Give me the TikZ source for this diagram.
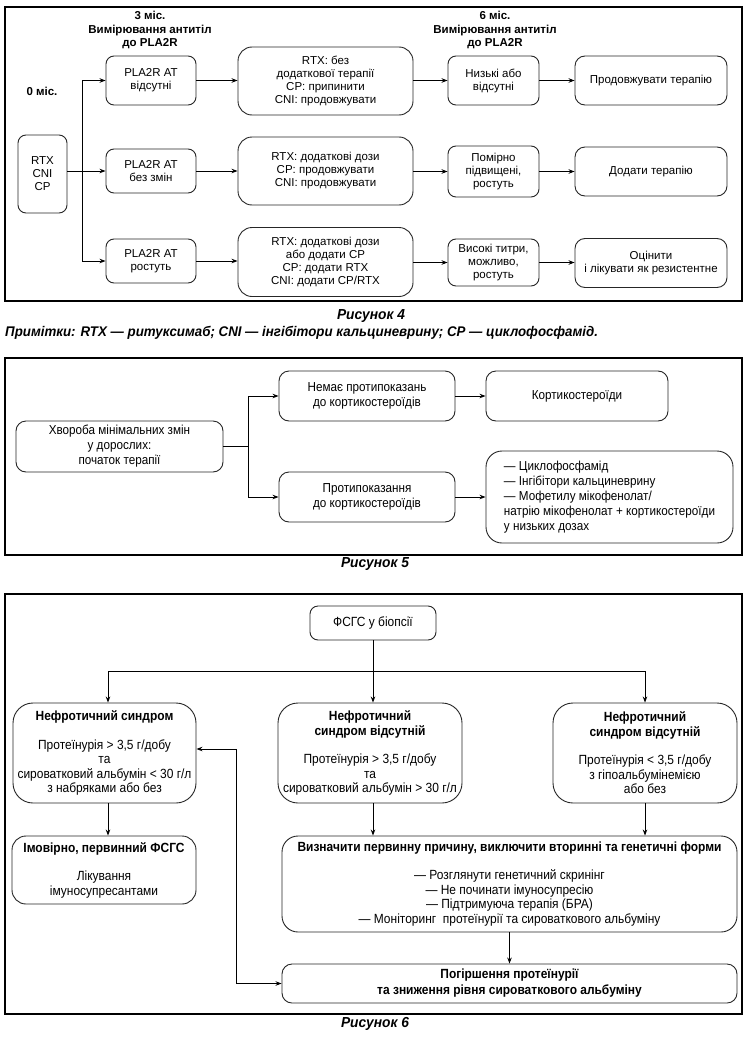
\documentclass[tikz,border=0pt]{standalone}
\usepackage{fontspec}
\setmainfont{Liberation Sans}
\newfontfamily\narrowf[FakeStretch=0.9]{Liberation Sans}
\newfontfamily\captf[FakeStretch=0.95]{Liberation Sans}
\usetikzlibrary{arrows.meta}
\tikzset{
  box/.style={draw=black!85, line width=0.9pt, rounded corners=8pt, align=center, inner sep=0pt, fill=white},
  arr/.style={-{Stealth[length=6pt,width=4.5pt]}, line width=0.9pt},
  darr/.style={{Stealth[length=6pt,width=4.5pt]}-{Stealth[length=6pt,width=4.5pt]}, line width=0.9pt},
  ln/.style={line width=0.9pt},
  frame/.style={line width=1.3pt},
  ffour/.style={font=\fontsize{11.5}{13}\selectfont},
  hdr/.style={font=\fontsize{11.5}{13.5}\selectfont\bfseries, align=center},
  ffive/.style={font=\narrowf\fontsize{13}{15}\selectfont},
  fsix/.style={font=\narrowf\fontsize{13.3}{14.5}\selectfont},
  capt/.style={font=\captf\fontsize{14.5}{16}\selectfont\bfseries\itshape},
  notef/.style={font=\captf\fontsize{14}{16}\selectfont\bfseries\itshape}
}
\begin{document}
\begin{tikzpicture}[x=1pt,y=-1pt]
\useasboundingbox[fill=white] (0,0) rectangle (751,1041);

% ================= Figure 4 =================
\draw[frame] (5,7) rectangle (742,301);
\node[hdr] (h3) at (150,30) {3 міс.\\Вимірювання антитіл\\до PLA2R};
\node[hdr] (h6) at (495,30) {6 міс.\\Вимірювання антитіл\\до PLA2R};
\node[hdr] (h0) at (42,91) {0 міс.};

\node[box, ffour, minimum width=49, minimum height=78] (rtx) at (42.5,174) {RTX\\CNI\\CP};
\node[box, ffour, minimum width=90, minimum height=49] (a1) at (151,80.5) {PLA2R AT\\відсутні};
\node[box, ffour, minimum width=90, minimum height=44] (a2) at (151,171) {PLA2R AT\\без змін};
\node[box, ffour, minimum width=90, minimum height=44] (a3) at (151,261) {PLA2R AT\\ростуть};
\node[box, ffour, rounded corners=14pt, minimum width=175, minimum height=68] (b1) at (325.5,81) {RTX: без\\додаткової терапії\\CP: припинити\\CNI: продовжувати};
\node[box, ffour, rounded corners=14pt, minimum width=175, minimum height=68] (b2) at (325.5,171) {RTX: додаткові дози\\CP: продовжувати\\CNI: продовжувати};
\node[box, ffour, rounded corners=14pt, minimum width=175, minimum height=69] (b3) at (325.5,262) {RTX: додаткові дози\\або додати CP\\CP: додати RTX\\CNI: додати CP/RTX};
\node[box, ffour, minimum width=91, minimum height=49] (c1) at (493.5,80.5) {Низькі або\\відсутні};
\node[box, ffour, minimum width=91, minimum height=51] (c2) at (493.5,171.5) {Помірно\\підвищені,\\ростуть};
\node[box, ffour, minimum width=91, minimum height=47] (c3) at (493.5,262.5) {Високі титри,\\можливо,\\ростуть};
\node[box, ffour, rounded corners=10pt, minimum width=152, minimum height=49] (d1) at (651,80.5) {Продовжувати терапію};
\node[box, ffour, rounded corners=10pt, minimum width=152, minimum height=49] (d2) at (651,171.5) {Додати терапію};
\node[box, ffour, rounded corners=10pt, minimum width=152, minimum height=49] (d3) at (651,263) {Оцінити\\і лікувати як резистентне};

\coordinate (j4) at (82,171);
\draw[ln] (rtx.east |- a2.west) -- (j4);
\draw[arr] (j4 |- a1.west) -- (a1.west);
\draw[arr] (j4) -- (a2.west);
\draw[arr] (j4 |- a1.west) -- (j4 |- a3.west) -- (a3.west);
\draw[arr] (a1.east) -- (a1.east -| b1.west);
\draw[arr] (a2.east) -- (a2.east -| b2.west);
\draw[arr] (a3.east) -- (a3.east -| b3.west);
\draw[arr] (b1.east |- c1.west) -- (c1.west);
\draw[arr] (b2.east |- c2.west) -- (c2.west);
\draw[arr] (b3.east |- c3.west) -- (c3.west);
\draw[arr] (c1.east) -- (c1.east -| d1.west);
\draw[arr] (c2.east) -- (c2.east -| d2.west);
\draw[arr] (c3.east) -- (c3.east -| d3.west);

\node[capt] (cap4) at (371,316) {Рисунок 4};
\node[notef, anchor=west, inner sep=0pt] (note4) at (5,333) {Примітки: RTX — ритуксимаб; CNI — інгібітори кальциневрину; CP — циклофосфамід.};

% ================= Figure 5 =================
\draw[frame] (5,358) rectangle (742,555);
\node[box, ffive, rounded corners=10pt, minimum width=207, minimum height=51] (hv) at (119.5,446.5) {Хвороба мінімальних змін\\у дорослих:\\початок терапії};
\node[box, ffive, rounded corners=10pt, minimum width=176, minimum height=50] (n1) at (367,396) {Немає протипоказань\\до кортикостероїдів};
\node[box, ffive, rounded corners=10pt, minimum width=176, minimum height=50] (n2) at (367,497) {Протипоказання\\до кортикостероїдів};
\node[box, ffive, rounded corners=10pt, minimum width=182, minimum height=50] (k1) at (577,396) {Кортикостероїди};
\node[box, ffive, rounded corners=16pt, minimum width=247, minimum height=92, align=left] (k2) at (609.5,497) {— Циклофосфамід\\— Інгібітори кальциневрину\\— Мофетилу мікофенолат/\\натрію мікофенолат + кортикостероїди\\у низьких дозах};

\coordinate (j5) at (248,446.5);
\draw[ln] (hv.east) -- (j5);
\draw[arr] (j5) -- (j5 |- n1.west) -- (n1.west);
\draw[arr] (j5) -- (j5 |- n2.west) -- (n2.west);
\draw[arr] (n1.east) -- (k1.west);
\draw[arr] (n2.east) -- (n2.east -| k2.west);

\node[capt] (cap5) at (375,564) {Рисунок 5};

% ================= Figure 6 =================
\draw[frame] (5,594) rectangle (742,1014);
\node[box, fsix, minimum width=126, minimum height=34] (fs) at (373,623) {ФСГС у біопсії};
\node[box, fsix, rounded corners=20pt, minimum width=183, minimum height=100] (ns) at (104.5,753) {\textbf{Нефротичний синдром}\\[14pt]Протеїнурія > 3,5 г/добу\\та\\сироватковий альбумін < 30 г/л\\з набряками або без};
\node[box, fsix, rounded corners=20pt, minimum width=184, minimum height=100] (na) at (370,753) {\textbf{Нефротичний}\\\textbf{синдром відсутній}\\[14pt]Протеїнурія > 3,5 г/добу\\та\\сироватковий альбумін > 30 г/л};
\node[box, fsix, rounded corners=20pt, minimum width=184, minimum height=100] (nb) at (645,753) {\textbf{Нефротичний}\\\textbf{синдром відсутній}\\[14pt]Протеїнурія < 3,5 г/добу\\з гіпоальбумінемією\\або без};
\node[box, fsix, rounded corners=14pt, minimum width=184, minimum height=68] (im) at (104,870) {\textbf{Імовірно, первинний ФСГС}\\[14pt]Лікування\\імуносупресантами};
\node[box, fsix, rounded corners=16pt, minimum width=455, minimum height=96] (vz) at (509.5,884) {\textbf{Визначити первинну причину, виключити вторинні та генетичні форми}\\[14pt]— Розглянути генетичний скринінг\\— Не починати імуносупресію\\— Підтримуюча терапія (БРА)\\— Моніторинг~ протеїнурії та сироваткового альбуміну};
\node[box, fsix, rounded corners=10pt, minimum width=455, minimum height=39, font=\narrowf\fontsize{13.3}{16}\selectfont\bfseries] (pg) at (509.5,983.5) {Погіршення протеїнурії\\та зниження рівня сироваткового альбуміну};

\coordinate (jl) at (108,671);
\coordinate (jr) at (645,671);
\draw[arr] (fs.south) -- (fs.south |- na.north);
\draw[arr] (jl) -- (jl |- ns.north);
\draw[arr] (jl) -- (jr) -- (jr |- nb.north);
\draw[arr] (jl |- ns.south) -- (jl |- im.north);
\draw[arr] (fs.south |- na.south) -- (fs.south |- vz.north);
\draw[arr] (jr |- nb.south) -- (jr |- vz.north);
\draw[arr] (vz.south) -- (pg.north);
\coordinate (fb1) at (236,749);
\coordinate (fb2) at (236,983.5);
\draw[darr] (fb1 -| ns.east) -- (fb1) -- (fb2) -- (pg.west);

\node[capt] (cap6) at (375,1024) {Рисунок 6};
\end{tikzpicture}
\end{document}
